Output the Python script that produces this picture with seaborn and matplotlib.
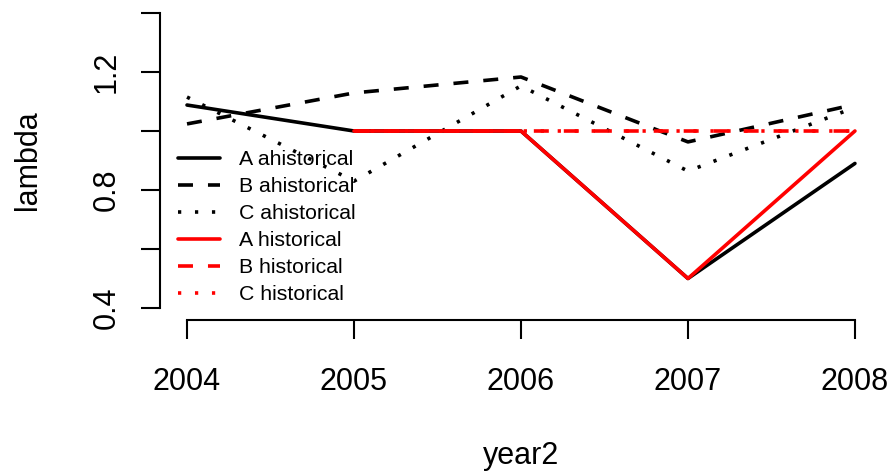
import numpy as np
import pandas as pd
import matplotlib
matplotlib.use('Agg')
import matplotlib.pyplot as plt
import seaborn as sns

# values
years = [2004, 2005, 2006, 2007, 2008]
a_ahist = [1.088, 1.0, 1.0, 0.5, 0.89]
b_ahist = [1.024, 1.129, 1.183, 0.963, 1.09]
c_ahist = [1.115, 0.83, 1.153, 0.864, 1.08]
a_hist = [np.nan, 1.0, 1.0, 0.5, 1.0]
b_hist = [np.nan, 1.0, 1.0, 1.0, 1.0]
c_hist = [np.nan, 1.0, 1.0, 1.0, 1.0]

series_names = ['A ahistorical', 'B ahistorical', 'C ahistorical',
                'A historical', 'B historical', 'C historical']
yticks = [0.4, 0.6, 0.8, 1.0, 1.2, 1.4]
ytick_labels = ['0.4', '', '0.8', '', '1.2', '']

sns.set_style('ticks')
plt.rcParams['font.family'] = ['Liberation Sans', 'DejaVu Sans']
plt.rcParams['text.color'] = 'black'
plt.rcParams['axes.labelcolor'] = 'black'

fig = plt.figure(figsize=(8.93, 4.71), dpi=100)
ax = fig.add_axes([0.1795, 0.321, 0.8078, 0.6765])

# R style lty 2 and 3, in units of line width
dashed = (0, (4.15, 4.15))
dotted = (0, (0.9, 3.8))
styles = [('black', '-'), ('black', dashed), ('black', dotted),
          ('red', '-'), ('red', dashed), ('red', dotted)]
all_vals = [a_ahist, b_ahist, c_ahist, a_hist, b_hist, c_hist]

for name, vals, (col, ls) in zip(series_names, all_vals, styles):
    d = pd.DataFrame({'year2': years, 'lambda': vals}).dropna()
    sns.lineplot(data=d, x='year2', y='lambda', color=col, linestyle=ls,
                 lw=2.6, label=name, ax=ax)

ax.set_xlim(2004 - 0.16, 2008 + 0.16)
ax.set_ylim(0.36, 1.44)
ax.set_xticks(years)
ax.set_xticklabels([str(y) for y in years])
ax.set_yticks(yticks)
ax.set_yticklabels(ytick_labels)

for s in ['top', 'right']:
    ax.spines[s].set_visible(False)
ax.spines['left'].set_bounds(0.4, 1.4)
ax.spines['bottom'].set_bounds(2004, 2008)
for s in ['left', 'bottom']:
    ax.spines[s].set_linewidth(1.5)
    ax.spines[s].set_color('black')

ax.tick_params(axis='x', length=14, width=1.5, direction='out', pad=20,
               labelsize=22, colors='black')
ax.tick_params(axis='y', length=14, width=1.5, direction='out', pad=14,
               labelsize=22, colors='black')
for lab in ax.get_yticklabels():
    lab.set_rotation(90)
    lab.set_va('center')

ax.set_xlabel('year2', fontsize=22, labelpad=32)
ax.set_ylabel('lambda', fontsize=22, labelpad=35)

leg = ax.legend(loc='upper left', bbox_to_anchor=(0.0245, 0.533),
                frameon=False, fontsize=15.3, handlelength=2.0,
                handletextpad=0.86, labelspacing=0.38, borderpad=0,
                borderaxespad=0)
for t in leg.get_texts():
    t.set_color('black')

fig.savefig('out.png', dpi=100)
